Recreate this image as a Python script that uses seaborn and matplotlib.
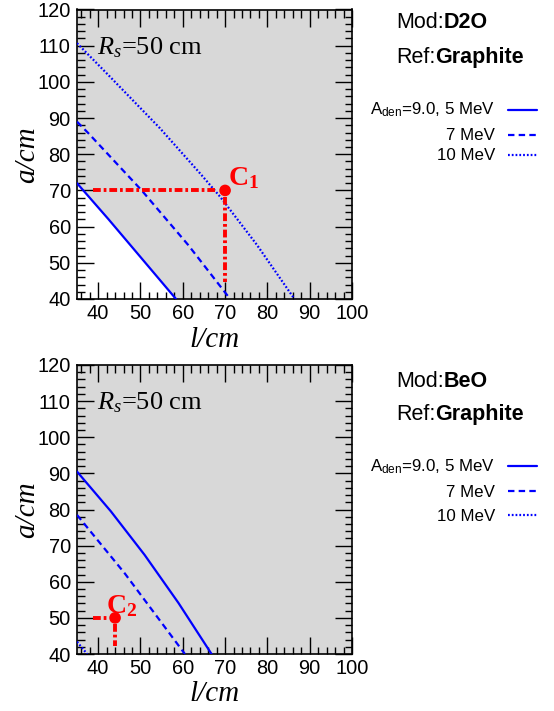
import matplotlib
matplotlib.use("Agg")
import matplotlib.pyplot as plt
import seaborn as sns
from matplotlib.ticker import MultipleLocator
from matplotlib.lines import Line2D

# ---- data ----
# top panel: Mod D2O / Ref Graphite
d2o_l_5 = [35, 42.4, 58.4]
d2o_a_5 = [72.0, 62.1, 40.0]
d2o_l_7 = [35, 37.7, 50.3, 61.3, 71.2]
d2o_a_7 = [89.0, 85.8, 70.0, 54.9, 40.0]
d2o_l_10 = [35, 42.4, 54.6, 64.1, 68.8, 77.5, 86.4]
d2o_a_10 = [110.7, 101.9, 87.2, 74.7, 68.3, 55.0, 40.0]

# bottom panel: Mod BeO / Ref Graphite
beo_l_5 = [35, 43, 51, 59, 66.8]
beo_a_5 = [90.5, 79.5, 67.4, 54.1, 40.0]
beo_l_7 = [35, 46.3, 60.5]
beo_a_7 = [78.5, 62.3, 40.0]
beo_l_10 = [35, 37.4]
beo_a_10 = [43.4, 40.0]

# chosen points and their guide lines
c1 = (70, 70)
c1_hline_l = [38.9, 67.6]
c1_vline_a = [68.3, 44.8]
c2 = (44, 50)
c2_hline_l = [38.8, 42.2]
c2_vline_a = [48.4, 42.3]

energies = ["5", "7", "10"]
legend_labels = ["A$_\\mathsf{den}$=9.0, 5 MeV", "7 MeV", "10 MeV"]
mods = ["D2O", "BeO"]
refs = ["Graphite", "Graphite"]

W, H = 554, 711
GRAY = "#d8d8d8"
BLUE = "#0000ff"
styles = {"5": "-", "7": (0, (2.9, 1.9)), "10": (0, (0.8, 0.9))}
red_dashdot = (0, (2.0, 0.75, 0.7, 0.75))

sns.set_style("ticks")
plt.rcParams["font.family"] = ["Liberation Sans", "DejaVu Sans"]
plt.rcParams["text.color"] = "black"
plt.rcParams["axes.labelcolor"] = "black"
plt.rcParams["xtick.color"] = "black"
plt.rcParams["ytick.color"] = "black"
plt.rcParams["mathtext.fontset"] = "custom"
plt.rcParams["mathtext.rm"] = "Liberation Serif"
plt.rcParams["mathtext.it"] = "Liberation Serif:italic"
plt.rcParams["mathtext.bf"] = "Liberation Serif:bold"
plt.rcParams["mathtext.sf"] = "Liberation Sans"


def fx(px):
    return px / W


def fy(py):
    return 1 - py / H


fig = plt.figure(figsize=(W / 100, H / 100), dpi=100)
ax1 = fig.add_axes([fx(77), fy(299), 275 / W, 289.5 / H])
ax2 = fig.add_axes([fx(77), fy(654), 275 / W, 289 / H])

panels = [
    (ax1, [(d2o_l_5, d2o_a_5), (d2o_l_7, d2o_a_7), (d2o_l_10, d2o_a_10)],
     c1, c1_hline_l, c1_vline_a, "C$_\\mathbf{1}$", (70.6, 71.5)),
    (ax2, [(beo_l_5, beo_a_5), (beo_l_7, beo_a_7), (beo_l_10, beo_a_10)],
     c2, c2_hline_l, c2_vline_a, "C$_\\mathbf{2}$", (41.9, 51.4)),
]

for i, (ax, curves, pt, hl, va_, clabel, cpos) in enumerate(panels):
    ax.set_facecolor("white")
    if i == 0:
        # allowed region: above the 5 MeV curve
        ax.fill_between(curves[0][0] + [100], curves[0][1] + [40], 120,
                        color=GRAY, lw=0, zorder=0)
    else:
        ax.set_facecolor(GRAY)

    for e, (l, a) in zip(energies, curves):
        sns.lineplot(x=l, y=a, ax=ax, color=BLUE, lw=1.6,
                     linestyle=styles[e], zorder=3)

    ax.plot(hl, [pt[1], pt[1]], color="red", lw=2.8, linestyle=red_dashdot, zorder=4)
    ax.plot([pt[0], pt[0]], va_, color="red", lw=2.8, linestyle=red_dashdot, zorder=4)
    sns.scatterplot(x=[pt[0]], y=[pt[1]], ax=ax, color="red", s=70,
                    edgecolor="none", zorder=5)
    ax.text(cpos[0], cpos[1], clabel, color="red", fontsize=20,
            fontweight="bold", family="Liberation Serif", va="baseline")

    ax.text(0.0716, 0.845, "$R_s$=50 cm", transform=ax.transAxes,
            fontsize=19, family="Liberation Serif", va="baseline")

    ax.set_xlim(35, 100)
    ax.set_ylim(40, 120)
    ax.xaxis.set_major_locator(MultipleLocator(10))
    ax.xaxis.set_minor_locator(MultipleLocator(2))
    ax.yaxis.set_major_locator(MultipleLocator(10))
    ax.yaxis.set_minor_locator(MultipleLocator(2))
    ax.tick_params(which="both", direction="in", top=True, right=True,
                   width=1.0, color="black", labelcolor="black")
    ax.tick_params(which="major", length=12)
    ax.tick_params(which="minor", length=5.4)
    ax.tick_params(axis="x", which="major", pad=3.8, labelsize=14.4)
    ax.tick_params(axis="y", which="major", pad=4.5, labelsize=14.4)
    for s in ax.spines.values():
        s.set_linewidth(1.2)
        s.set_color("black")

    ax.set_xlabel("l/cm", fontsize=21, family="Liberation Serif", style="italic")
    ax.set_ylabel("a/cm", fontsize=21, family="Liberation Serif", style="italic")
    ax.xaxis.set_label_coords(0.5, -0.095)
    ax.yaxis.set_label_coords(-0.135, 0.5)

# right-hand annotation blocks
block_y = [(28.3, 63.3, [115, 140, 160]), (386.7, 420, [471.7, 496.7, 520.7])]
for ax, mod, ref, (ymod, yref, yleg) in zip([ax1, ax2], mods, refs, block_y):
    t = fig.text(fx(396), fy(ymod), "Mod:", fontsize=15.5, va="baseline")
    ax.annotate(mod, xy=(1, 0), xycoords=t, va="bottom", ha="left",
                fontsize=15.5, fontweight="bold", annotation_clip=False)
    t = fig.text(fx(396), fy(yref), "Ref:", fontsize=15.5, va="baseline")
    ax.annotate(ref, xy=(1, 0), xycoords=t, va="bottom", ha="left",
                fontsize=15.5, fontweight="bold", annotation_clip=False)
    for e, lab, yb in zip(energies, legend_labels, yleg):
        fig.text(fx(495), fy(yb), lab, fontsize=12.2, ha="right", va="baseline")
        fig.add_artist(Line2D([fx(507.7), fx(536.7)], [fy(yb - 5.5)] * 2,
                              transform=fig.transFigure, color=BLUE, lw=1.6,
                              linestyle=styles[e]))

fig.savefig("out.png", dpi=100)
